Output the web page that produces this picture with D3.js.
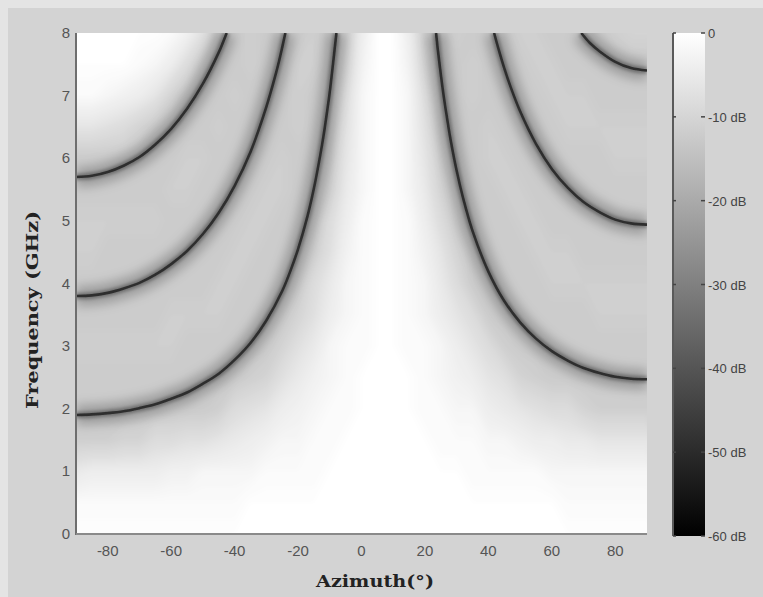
<!DOCTYPE html>
<html>
<head>
<meta charset="utf-8">
<script src="https://cdn.jsdelivr.net/npm/d3@7"></script>
<style>
  body { margin: 0; background: #e4e4e4; }
</style>
</head>
<body>
<svg id="mainsvg" width="763" height="597"></svg>
<script>
// grid of the map: azimuth columns (deg) and frequency rows (GHz)
const azimuths = [-90,-85,-80,-75,-70,-65,-60,-55,-50,-45,-40,-35,-30,-25,-20,-15,-10,-5,0,5,10,15,20,25,30,35,40,45,50,55,60,65,70,75,80,85,90];
const freqs = [0,0.5,1,1.5,2,2.5,3,3.5,4,4.5,5,5.5,6,6.5,7,7.5,8];

// level (dB), one row per frequency, bottom row first
const gainDb = [
  [0,0,0,0,0,0,0,0,0,0,0,0,0,0,0,0,0,0,0,0,0,0,0,0,0,0,0,0,0,0,0,0,0,0,0,0,0],
  [-1,-1,-1,-1,-1,-1,-1,-1,-1,-1,-1,0,0,0,0,0,0,0,0,0,0,0,0,0,0,0,0,0,0,0,0,-1,-1,-1,-1,-1,-1],
  [-5,-4,-4,-4,-4,-4,-3,-3,-2,-2,-2,-2,-1,-1,-1,-1,0,0,0,0,0,0,0,0,0,-1,-1,-1,-1,-1,-2,-2,-2,-2,-2,-2,-2],
  [-11,-11,-11,-10,-10,-8,-8,-7,-7,-6,-5,-4,-3,-2,-2,-1,-1,0,0,0,0,0,0,-1,-1,-1,-2,-2,-3,-4,-4,-5,-5,-6,-6,-6,-6],
  [-12,-12,-12,-12,-12,-12,-12,-12,-12,-11,-8,-7,-6,-4,-3,-2,-1,-1,0,0,0,0,-1,-1,-2,-2,-4,-5,-6,-7,-8,-8,-10,-11,-11,-11,-11],
  [-12,-12,-12,-12,-12,-12,-12,-12,-12,-12,-12,-11,-10,-7,-5,-3,-2,-1,0,0,0,0,-1,-2,-3,-4,-6,-7,-10,-11,-12,-12,-12,-12,-12,-12,-12],
  [-11,-11,-11,-11,-11,-11,-11,-12,-12,-12,-12,-12,-12,-10,-7,-5,-2,-1,-1,0,0,-1,-1,-2,-4,-6,-8,-11,-12,-12,-12,-12,-12,-12,-12,-12,-12],
  [-12,-12,-12,-12,-12,-12,-11,-11,-11,-11,-12,-12,-12,-12,-10,-7,-4,-2,-1,0,0,-1,-2,-4,-6,-8,-12,-12,-12,-12,-12,-12,-12,-11,-11,-11,-11],
  [-12,-12,-12,-12,-12,-12,-12,-12,-12,-11,-11,-12,-12,-12,-12,-8,-5,-2,-1,0,0,-1,-2,-5,-8,-12,-12,-12,-12,-12,-11,-11,-11,-11,-11,-11,-11],
  [-11,-11,-12,-12,-12,-12,-12,-12,-12,-12,-11,-11,-12,-12,-12,-11,-7,-3,-1,0,0,-1,-3,-6,-10,-12,-12,-12,-12,-11,-11,-11,-12,-12,-12,-12,-12],
  [-11,-11,-11,-11,-11,-11,-12,-12,-12,-12,-12,-11,-11,-12,-12,-12,-8,-4,-1,0,0,-1,-4,-8,-12,-12,-12,-12,-11,-11,-12,-12,-12,-12,-12,-12,-12],
  [-12,-12,-12,-12,-12,-12,-11,-11,-12,-12,-12,-12,-11,-11,-12,-12,-11,-5,-2,0,0,-2,-5,-10,-12,-12,-12,-11,-11,-12,-12,-12,-12,-12,-12,-12,-12],
  [-12,-12,-12,-12,-12,-12,-12,-11,-11,-12,-12,-12,-12,-11,-12,-12,-12,-6,-2,0,0,-2,-6,-11,-12,-12,-11,-11,-12,-12,-12,-12,-12,-12,-11,-11,-11],
  [-6,-6,-7,-8,-10,-12,-12,-12,-12,-11,-12,-12,-12,-12,-11,-12,-12,-7,-2,0,0,-2,-7,-12,-12,-12,-11,-12,-12,-12,-12,-11,-11,-11,-11,-11,-11],
  [-1,-1,-2,-3,-4,-6,-10,-12,-12,-12,-11,-12,-12,-12,-11,-12,-12,-8,-2,0,0,-2,-8,-12,-12,-11,-12,-12,-12,-12,-11,-11,-11,-12,-12,-12,-12],
  [0,0,0,0,-1,-2,-4,-8,-12,-12,-12,-11,-12,-12,-11,-11,-12,-10,-3,0,0,-3,-10,-12,-12,-11,-12,-12,-12,-11,-11,-12,-12,-12,-12,-12,-12],
  [0,0,0,0,0,0,-1,-3,-7,-12,-12,-11,-12,-12,-12,-11,-12,-11,-4,0,0,-4,-11,-12,-11,-12,-12,-12,-11,-11,-12,-12,-12,-12,-11,-10,-10]
];

// dark null curves, [azimuth, GHz]
const nullL1 = [[-90,1.90],[-85,1.91],[-80,1.93],[-75,1.96],[-70,2.01],[-65,2.07],[-60,2.16],[-55,2.26],[-50,2.40],[-45,2.56],[-40,2.78],[-35,3.05],[-30,3.41],[-25,3.88],[-22.5,4.19],[-20,4.55],[-17,5.08],[-15,5.52],[-13,6.05],[-12,6.35],[-11,6.69],[-10,7.06],[-9,7.50],[-8.5,7.73],[-7.9,8.0]];
const nullL2 = [[-90,3.80],[-85,3.81],[-80,3.85],[-75,3.92],[-70,4.01],[-65,4.14],[-60,4.31],[-55,4.52],[-50,4.79],[-45,5.13],[-40,5.56],[-35,6.10],[-30,6.82],[-27,7.35],[-26,7.55],[-25,7.77],[-24,8.0]];
const nullL3 = [[-90,5.70],[-85,5.72],[-80,5.78],[-75,5.88],[-70,6.02],[-65,6.22],[-60,6.47],[-55,6.79],[-50,7.19],[-45,7.69],[-44,7.81],[-42.5,8.0]];
const nullR1 = [[23.5,8.0],[24,7.76],[25,7.34],[26,6.96],[27,6.63],[28,6.32],[30,5.80],[32,5.37],[35,4.84],[40,4.19],[45,3.72],[50,3.38],[55,3.12],[60,2.92],[65,2.77],[70,2.65],[75,2.57],[80,2.51],[85,2.48],[90,2.47]];
const nullR2 = [[41.8,8.0],[43,7.78],[45,7.44],[47,7.14],[50,6.75],[55,6.23],[60,5.83],[65,5.53],[70,5.30],[75,5.14],[80,5.02],[85,4.96],[90,4.94]];
const nullR3 = [[69.3,8.0],[72,7.84],[75,7.71],[80,7.54],[85,7.44],[90,7.40]];

const xTicks = [-80,-60,-40,-20,0,20,40,60,80];
const yTicks = [0,1,2,3,4,5,6,7,8];
const cbTicks = [0,-10,-20,-30,-40,-50,-60];
const cbLabels = ["0","-10 dB","-20 dB","-30 dB","-40 dB","-50 dB","-60 dB"];

const svg = d3.select('#mainsvg');
const width = +svg.attr('width');
const height = +svg.attr('height');

// figure frame
svg.append('rect').attr('width', width).attr('height', height).attr('fill', '#e4e4e4');
svg.append('rect').attr('x', 8).attr('y', 8).attr('width', width - 8).attr('height', height - 8).attr('fill', '#d3d3d3');

const x = d3.scaleLinear().domain([-90, 90]).range([76, 647]);
const y = d3.scaleLinear().domain([0, 8]).range([534, 33]);
const gray = d3.scaleLinear().domain([-60, 0]).range(['#000000', '#ffffff']);

const defs = svg.append('defs');
defs.append('clipPath').attr('id', 'plotclip')
  .append('rect').attr('x', x(-90)).attr('y', y(8))
  .attr('width', x(90) - x(-90)).attr('height', y(0) - y(8));
[['blurBands', 2.5], ['blurWide', 5.5], ['blurMid', 1.8], ['blurCore', 0.6]].forEach(([id, s]) => {
  defs.append('filter').attr('id', id)
    .attr('filterUnits', 'userSpaceOnUse')
    .attr('x', 0).attr('y', 0).attr('width', width).attr('height', height)
    .append('feGaussianBlur').attr('stdDeviation', s);
});

const plot = svg.append('g').attr('clip-path', 'url(#plotclip)');
plot.append('rect').attr('x', x(-90)).attr('y', y(8))
  .attr('width', x(90) - x(-90)).attr('height', y(0) - y(8)).attr('fill', gray(-12));

// filled level bands from the grid
const nx = azimuths.length, ny = freqs.length;
const gx = d3.scaleLinear().domain([0.5, nx - 0.5]).range([azimuths[0], azimuths[nx - 1]]);
const gy = d3.scaleLinear().domain([0.5, ny - 0.5]).range([freqs[0], freqs[ny - 1]]);
const proj = d3.geoTransform({
  point: function(px, py) { this.stream.point(x(gx(px)), y(gy(py))); }
});
const path = d3.geoPath(proj);
const bands = d3.contours().size([nx, ny])
  .thresholds(d3.range(-14, 0.01, 0.5))(gainDb.flat());
plot.append('g').attr('filter', 'url(#blurBands)')
  .selectAll('path').data(bands).join('path')
  .attr('d', path)
  .attr('fill', d => gray(d.value));

// null curves
const line = d3.line().x(d => x(d[0])).y(d => y(d[1])).curve(d3.curveCatmullRom);
const nulls = [nullL1, nullL2, nullL3, nullR1, nullR2, nullR3];
const layers = [
  { w: 20, c: '#000', o: 0.24, f: 'blurWide' },
  { w: 7, c: '#000', o: 0.28, f: 'blurMid' },
  { w: 2.6, c: '#2e2e2e', o: 1, f: 'blurCore' }
];
layers.forEach(l => {
  plot.append('g').selectAll('path').data(nulls).join('path')
    .attr('d', line)
    .attr('fill', 'none')
    .attr('stroke', l.c)
    .attr('stroke-opacity', l.o)
    .attr('stroke-width', l.w)
    .attr('filter', `url(#${l.f})`);
});

// axes lines
svg.append('line').attr('x1', x(-90)).attr('x2', x(-90)).attr('y1', y(8)).attr('y2', y(0) + 1)
  .attr('stroke', '#6e6e6e').attr('stroke-width', 2);
svg.append('line').attr('x1', x(-90)).attr('x2', x(90)).attr('y1', y(0)).attr('y2', y(0))
  .attr('stroke', '#8a8a8a').attr('stroke-width', 2);

// tick labels
svg.append('g').selectAll('text').data(xTicks).join('text')
  .attr('x', d => x(d)).attr('y', 556)
  .attr('text-anchor', 'middle')
  .attr('font-family', 'Arial, "Liberation Sans", sans-serif')
  .attr('font-size', 15).attr('fill', '#555')
  .text(d => d);
svg.append('g').selectAll('text').data(yTicks).join('text')
  .attr('x', 70).attr('y', d => y(d) + 5)
  .attr('text-anchor', 'end')
  .attr('font-family', 'Arial, "Liberation Sans", sans-serif')
  .attr('font-size', 15).attr('fill', '#555')
  .text(d => d);

// axis titles
svg.append('text')
  .attr('transform', 'translate(38,310) rotate(-90)')
  .attr('text-anchor', 'middle')
  .attr('font-family', '"DejaVu Serif", serif').attr('font-weight', 'bold')
  .attr('font-size', 16).attr('fill', '#222')
  .attr('textLength', 198).attr('lengthAdjust', 'spacingAndGlyphs')
  .text('Frequency (GHz)');
svg.append('text')
  .attr('x', 375).attr('y', 587)
  .attr('text-anchor', 'middle')
  .attr('font-family', '"DejaVu Serif", serif').attr('font-weight', 'bold')
  .attr('font-size', 16).attr('fill', '#222')
  .attr('textLength', 118).attr('lengthAdjust', 'spacingAndGlyphs')
  .text('Azimuth(°)');

// colour bar
const cb = d3.scaleLinear().domain([0, -60]).range([33, 536]);
const grad = defs.append('linearGradient').attr('id', 'cbgrad')
  .attr('x1', 0).attr('y1', 0).attr('x2', 0).attr('y2', 1);
cbTicks.forEach((t, i) => {
  grad.append('stop').attr('offset', i / (cbTicks.length - 1)).attr('stop-color', gray(t));
});
const cbx = 673, cbw = 32;
svg.append('rect').attr('x', cbx).attr('y', cb(0)).attr('width', cbw).attr('height', cb(-60) - cb(0))
  .attr('fill', 'url(#cbgrad)');
svg.append('line').attr('x1', cbx).attr('x2', cbx).attr('y1', cb(0)).attr('y2', cb(-60))
  .attr('stroke', '#5a5a5a').attr('stroke-width', 2);
const cbt = svg.append('g').selectAll('g').data(cbTicks).join('g');
cbt.append('line').attr('x1', cbx).attr('x2', cbx + 3).attr('y1', d => cb(d)).attr('y2', d => cb(d))
  .attr('stroke', '#444').attr('stroke-width', 1.5);
cbt.append('line').attr('x1', cbx + cbw - 4).attr('x2', cbx + cbw).attr('y1', d => cb(d)).attr('y2', d => cb(d))
  .attr('stroke', '#444').attr('stroke-width', 1.5);
cbt.append('text').attr('x', cbx + cbw + 3).attr('y', d => cb(d) + 5)
  .attr('font-family', 'Arial, "Liberation Sans", sans-serif')
  .attr('font-size', 13).attr('fill', '#444')
  .text((d, i) => cbLabels[i]);
</script>
</body>
</html>
